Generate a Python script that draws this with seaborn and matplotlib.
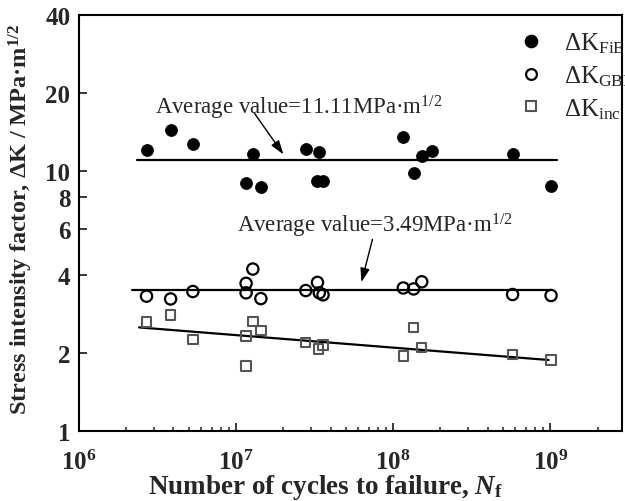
import numpy as np
import pandas as pd
import matplotlib
matplotlib.use('Agg')
import matplotlib.pyplot as plt
import seaborn as sns
from matplotlib.ticker import FixedLocator, LogLocator, FuncFormatter, NullFormatter
from matplotlib.lines import Line2D

# ---------------- data ----------------
nf_fie = [2.70e6, 3.84e6, 5.32e6, 1.28e7, 1.16e7, 1.44e7, 2.78e7, 3.39e7,
          3.30e7, 3.57e7, 1.16e8, 1.35e8, 1.52e8, 1.76e8, 5.75e8, 1.01e9]
dk_fie = [12.1, 14.4, 12.7, 11.7, 9.04, 8.68, 12.2, 11.9,
          9.15, 9.15, 13.6, 9.88, 11.5, 12.0, 11.7, 8.78]

nf_gbe = [2.70e6, 3.84e6, 5.32e6, 1.16e7, 1.16e7, 1.28e7, 1.44e7, 2.78e7,
          3.30e7, 3.39e7, 3.58e7, 1.16e8, 1.35e8, 1.52e8, 5.75e8, 1.01e9]
dk_gbe = [3.31, 3.23, 3.45, 3.71, 3.41, 4.21, 3.24, 3.48,
          3.74, 3.41, 3.35, 3.56, 3.53, 3.76, 3.36, 3.33]

nf_inc = [2.70e6, 3.84e6, 5.32e6, 1.16e7, 1.16e7, 1.28e7, 1.44e7, 2.78e7,
          3.34e7, 3.57e7, 1.16e8, 1.35e8, 1.52e8, 5.75e8, 1.01e9]
dk_inc = [2.63, 2.80, 2.25, 2.33, 1.78, 2.64, 2.44, 2.20,
          2.07, 2.15, 1.95, 2.51, 2.10, 1.97, 1.88]

avg_fie_x = [2.35e6, 1.11e9]
avg_fie_y = [11.11, 11.11]
avg_gbe_x = [2.17e6, 1.01e9]
avg_gbe_y = [3.49, 3.49]
trend_inc_x = [2.42e6, 9.75e8]
trend_inc_y = [2.51, 1.88]

y_ticks = [1, 2, 4, 6, 8, 10, 20, 40]
x_ticks = [1e6, 1e7, 1e8, 1e9]

# ---------------- style ----------------
sns.set_style("ticks")
plt.rcParams['font.family'] = ['Liberation Serif', 'DejaVu Serif']
plt.rcParams['mathtext.fontset'] = 'custom'
plt.rcParams['mathtext.rm'] = 'Liberation Serif'
plt.rcParams['mathtext.bf'] = 'Liberation Serif:bold'
plt.rcParams['mathtext.it'] = 'Liberation Serif:italic:bold'

fig = plt.figure(figsize=(6.25, 5.02), dpi=100)
ax = fig.add_axes([0.126, 0.139, 0.869, 0.829])

df_fie = pd.DataFrame({'Nf': nf_fie, 'dK': dk_fie})
df_gbe = pd.DataFrame({'Nf': nf_gbe, 'dK': dk_gbe})
df_inc = pd.DataFrame({'Nf': nf_inc, 'dK': dk_inc})

sns.scatterplot(data=df_fie, x='Nf', y='dK', ax=ax, marker='o', s=75,
                color='black', edgecolor='black', linewidth=0.5, zorder=3)
sns.scatterplot(data=df_gbe, x='Nf', y='dK', ax=ax, marker='o', s=66,
                facecolor='none', edgecolor='black', linewidth=1.6, zorder=3)
sns.scatterplot(data=df_inc, x='Nf', y='dK', ax=ax, marker='s', s=46,
                facecolor='none', edgecolor='#555555', linewidth=1.5, zorder=3)

ax.plot(avg_fie_x, avg_fie_y, color='black', lw=1.6, zorder=2)
ax.plot(avg_gbe_x, avg_gbe_y, color='black', lw=1.6, zorder=2)
ax.plot(trend_inc_x, trend_inc_y, color='black', lw=1.6, zorder=2)

ax.set_xscale('log')
ax.set_yscale('log')
ax.set_xlim(1e6, 2.85e9)
ax.set_ylim(1, 40)

ax.yaxis.set_major_locator(FixedLocator(y_ticks))
ax.yaxis.set_major_formatter(FuncFormatter(lambda v, p: f'{int(v)}'))
ax.yaxis.set_minor_locator(FixedLocator([]))
ax.xaxis.set_major_locator(FixedLocator(x_ticks))
ax.xaxis.set_major_formatter(FuncFormatter(
    lambda v, p: r'$\mathbf{10^{%d}}$' % int(round(np.log10(v)))))
ax.xaxis.set_minor_locator(LogLocator(base=10, subs=np.arange(2, 10), numticks=20))
ax.xaxis.set_minor_formatter(NullFormatter())

ax.tick_params(axis='both', which='major', direction='in', length=6, width=1.3,
               labelsize=18, top=False, right=False)
ax.tick_params(axis='x', which='minor', direction='in', length=3, width=1.1,
               top=False)
ax.tick_params(axis='x', which='major', pad=13)
ax.tick_params(axis='y', which='major', pad=6)
for lab in ax.get_xticklabels() + ax.get_yticklabels():
    lab.set_fontweight('bold')

for sp in ax.spines.values():
    sp.set_linewidth(1.5)
    sp.set_color('black')

ax.set_xlabel(r'Number of cycles to failure, $\mathit{N}_{\mathbf{f}}$',
              fontsize=19.5, fontweight='bold')
ax.set_ylabel(r'Stress intensity factor, ΔK / MPa·m$^{\mathbf{1/2}}$',
              fontsize=17.5, fontweight='bold')
ax.xaxis.set_label_coords(0.455, -0.097)
ax.yaxis.set_label_coords(-0.080, 0.511)

# annotations
ax.annotate('', xy=(2.05e7, 11.4), xytext=(1.28e7, 17.1),
            arrowprops=dict(arrowstyle='-|>,head_length=0.6,head_width=0.2',
                            color='black', lw=1.0, mutation_scale=14))
ax.text(3.05e6, 17.7, r'Average value=11.11MPa·m$^{\mathrm{1/2}}$',
        fontsize=16.5, ha='left', va='center')
ax.annotate('', xy=(6.22e7, 3.66), xytext=(7.46e7, 5.61),
            arrowprops=dict(arrowstyle='-|>,head_length=0.6,head_width=0.2',
                            color='black', lw=1.0, mutation_scale=14))
ax.text(1.01e7, 6.25, r'Average value=3.49MPa·m$^{\mathrm{1/2}}$',
        fontsize=16.5, ha='left', va='center')

handles = [
    Line2D([], [], ls='none', marker='o', markersize=8.8, color='black'),
    Line2D([], [], ls='none', marker='o', markersize=7.8, markerfacecolor='none',
           markeredgecolor='black', markeredgewidth=1.6),
    Line2D([], [], ls='none', marker='s', markersize=6.8, markerfacecolor='none',
           markeredgecolor='#555555', markeredgewidth=1.5),
]
labels = [r'ΔK$_{\mathrm{FiE}}$', r'ΔK$_{\mathrm{GBE}}$', r'ΔK$_{\mathrm{inc}}$']
leg = ax.legend(handles, labels, loc='upper left', bbox_to_anchor=(0.812, 0.963),
                frameon=False, fontsize=18, handlelength=0.9, handletextpad=0.85,
                labelspacing=0.33, borderpad=0, borderaxespad=0)

fig.savefig('out.png', dpi=100)
